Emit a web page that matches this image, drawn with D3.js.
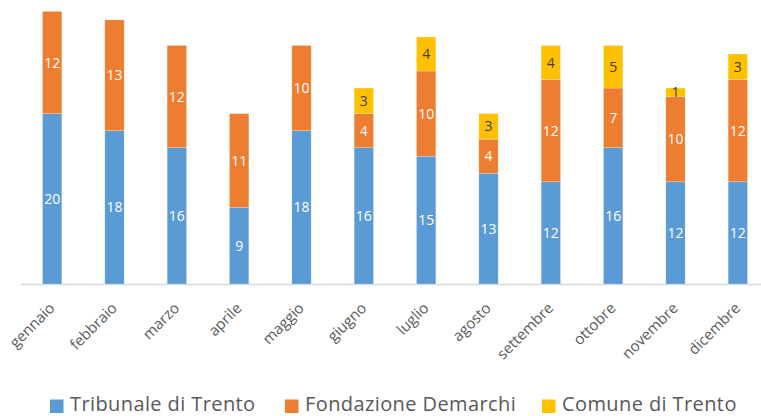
<!DOCTYPE html>
<html><head><meta charset="utf-8">
<script src="https://cdn.jsdelivr.net/npm/d3@7"></script>
<style>body{margin:0;background:#fff}svg{display:block}</style>
</head><body>
<svg id="c" width="761" height="416"></svg>
<script>
const months = ["gennaio","febbraio","marzo","aprile","maggio","giugno","luglio","agosto","settembre","ottobre","novembre","dicembre"];
const seriesNames = ["Tribunale di Trento","Fondazione Demarchi","Comune di Trento"];
const tribunale = [20,18,16,9,18,16,15,13,12,16,12,12];
const fondazione = [12,13,12,11,10,4,10,4,12,7,10,12];
const comune = [0,0,0,0,0,3,4,3,4,5,1,3];
const colors = ["#5B9BD5","#ED7D31","#FFC000"];
const labelColors = ["#fff","#fff","#404040"];

const font = "'Open Sans', sans-serif";
const svg = d3.select("#c");
const data = months.map((m,i)=>({m, a:tribunale[i], b:fondazione[i], c:comune[i]}));
const keys = ["a","b","c"];
const stack = d3.stack().keys(keys)(data);

const x = d3.scaleBand().domain(months).range([21, 769]).paddingInner(0.69).paddingOuter(0.345);
const y = d3.scaleLinear().domain([0, 32]).range([284, 11.4]);

// axis line
svg.append("line").attr("x1",21).attr("x2",769).attr("y1",284.5).attr("y2",284.5)
  .attr("stroke","#d9d9d9").attr("stroke-width",1.3);

stack.forEach((s,si)=>{
  const g = svg.append("g");
  g.selectAll("rect").data(s).join("rect")
    .attr("x", d=>x(d.data.m))
    .attr("width", x.bandwidth())
    .attr("y", d=>y(d[1]))
    .attr("height", d=>y(d[0])-y(d[1]))
    .attr("fill", colors[si])
    .attr("stroke","#fff").attr("stroke-opacity",0.35).attr("stroke-width",0.6);
  g.selectAll("text").data(s.filter(d=>d[1]-d[0]>0)).join("text")
    .attr("x", d=>x(d.data.m)+x.bandwidth()/2)
    .attr("y", d=>(y(d[0])+y(d[1]))/2)
    .attr("dy","0.36em")
    .attr("text-anchor","middle")
    .attr("font-family",font).attr("font-size",14)
    .attr("fill", labelColors[si])
    .text(d=>d[1]-d[0]);
});

// x labels
svg.append("g").selectAll("text").data(months).join("text")
  .attr("transform", m=>`translate(${x(m)+x.bandwidth()/2+3.5},${309}) rotate(-45)`)
  .attr("text-anchor","end")
  .attr("font-family",font).attr("font-size",15)
  .attr("fill","#595959")
  .text(m=>m);

// legend
const legX = [50, 285, 542];
const lg = svg.append("g");
seriesNames.forEach((n,i)=>{
  lg.append("rect").attr("x",legX[i]).attr("y",399.5).attr("width",13.5).attr("height",13.5).attr("fill",colors[i]);
  lg.append("text").attr("x",legX[i]+20).attr("y",410.5)
    .attr("font-family",font).attr("font-size",20).attr("letter-spacing",0.4)
    .attr("fill","#595959").text(n);
});
</script>
</body></html>
